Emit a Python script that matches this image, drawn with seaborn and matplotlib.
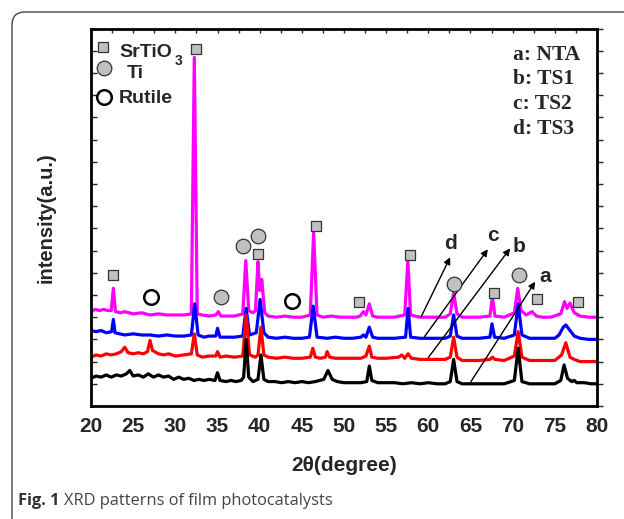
import matplotlib
matplotlib.use("Agg")
import matplotlib.pyplot as plt
import seaborn as sns
import pandas as pd
from matplotlib.patches import FancyBboxPatch
from matplotlib.ticker import MultipleLocator, NullFormatter

# XRD patterns: (2theta, intensity in a.u., stacked offsets included)
nta_pts = [(20.0, 1.25), (20.6, 1.35), (21.2, 1.3), (21.8, 1.4), (22.4, 1.3), (23.0, 1.4), (23.6, 1.35),
           (24.2, 1.45), (24.6, 1.6), (25.0, 1.35), (25.6, 1.4), (26.2, 1.3), (26.8, 1.45), (27.4, 1.3),
           (28.0, 1.4), (28.6, 1.3), (29.2, 1.35), (29.8, 1.2), (30.4, 1.3), (31.0, 1.2), (31.6, 1.25),
           (32.2, 1.15), (32.8, 1.2), (33.4, 1.15), (34.0, 1.2), (34.7, 1.15), (35.0, 1.5), (35.3, 1.15),
           (36.0, 1.1), (36.6, 1.15), (37.2, 1.1), (37.8, 1.15), (38.1, 1.3), (38.4, 3.0), (38.7, 1.3),
           (39.2, 1.1), (39.8, 1.2), (40.15, 2.3), (40.5, 1.2), (41.0, 1.1), (41.8, 1.1), (42.6, 1.05),
           (43.4, 1.1), (44.2, 1.05), (45.0, 1.1), (45.8, 1.05), (46.6, 1.1), (47.6, 1.2), (48.1, 1.6),
           (48.6, 1.2), (49.2, 1.1), (50.0, 1.05), (51.0, 1.05), (52.0, 1.05), (52.7, 1.1), (53.0, 1.8),
           (53.3, 1.15), (54.0, 1.05), (55.0, 1.05), (56.0, 1.05), (57.0, 1.0), (58.0, 1.05), (59.0, 1.0),
           (60.0, 1.05), (61.0, 1.0), (62.0, 1.0), (62.6, 1.1), (63.0, 2.1), (63.4, 1.1), (64.0, 1.0),
           (65.0, 1.0), (66.0, 1.0), (67.0, 1.0), (68.0, 1.0), (69.0, 1.0), (70.2, 1.15), (70.65, 2.6),
           (71.1, 1.1), (72.0, 1.0), (73.0, 1.0), (74.0, 1.0), (75.0, 1.0), (75.7, 1.15), (76.1, 1.85),
           (76.5, 1.25), (77.0, 1.1), (77.3, 1.15), (77.6, 1.05), (78.5, 1.05), (79.3, 1.0), (80.0, 1.0)]

ts1_pts = [(20.0, 2.2), (20.6, 2.3), (21.2, 2.25), (21.8, 2.35), (22.4, 2.3), (23.0, 2.35), (23.6, 2.45),
           (24.0, 2.65), (24.4, 2.4), (25.0, 2.35), (25.6, 2.4), (26.2, 2.35), (26.7, 2.45), (27.0, 2.95),
           (27.3, 2.5), (28.0, 2.35), (28.6, 2.3), (29.2, 2.35), (30.0, 2.25), (31.0, 2.3), (31.9, 2.35),
           (32.25, 3.25), (32.6, 2.3), (33.2, 2.2), (34.0, 2.25), (34.8, 2.25), (35.0, 2.45), (35.3, 2.2),
           (36.0, 2.25), (37.0, 2.2), (38.0, 2.25), (38.4, 4.1), (38.8, 2.3), (39.5, 2.2), (39.8, 2.3),
           (40.15, 3.55), (40.5, 2.3), (41.0, 2.2), (42.0, 2.15), (43.0, 2.2), (44.0, 2.15), (45.0, 2.15),
           (46.0, 2.2), (46.3, 2.6), (46.6, 2.2), (47.2, 2.15), (47.8, 2.2), (48.0, 2.45), (48.3, 2.2),
           (49.0, 2.15), (50.0, 2.15), (51.0, 2.15), (52.0, 2.15), (52.6, 2.25), (53.0, 2.7), (53.3, 2.2),
           (54.0, 2.15), (55.0, 2.15), (56.5, 2.2), (56.85, 2.3), (57.2, 2.15), (57.6, 2.35), (58.0, 2.15),
           (59.0, 2.1), (60.0, 2.1), (61.0, 2.1), (62.0, 2.1), (62.6, 2.2), (63.0, 3.1), (63.4, 2.2),
           (64.0, 2.05), (65.0, 2.05), (66.0, 2.05), (67.3, 2.1), (67.6, 2.2), (67.9, 2.1), (69.0, 2.05),
           (70.2, 2.25), (70.65, 3.35), (71.1, 2.2), (72.0, 2.05), (73.0, 2.05), (74.0, 2.05), (75.0, 2.05),
           (75.8, 2.3), (76.3, 2.85), (76.8, 2.2), (77.3, 2.1), (78.0, 2.0), (79.0, 2.0), (80.0, 2.0)]

ts2_pts = [(20.0, 3.4), (20.6, 3.35), (21.2, 3.4), (21.8, 3.3), (22.45, 3.35), (22.65, 3.9), (22.85, 3.3),
           (23.4, 3.25), (24.0, 3.2), (25.0, 3.25), (26.0, 3.2), (27.0, 3.2), (28.0, 3.15), (29.0, 3.2),
           (30.0, 3.15), (31.0, 3.15), (31.9, 3.2), (32.3, 4.6), (32.7, 3.2), (33.4, 3.1), (34.0, 3.15),
           (34.8, 3.15), (35.0, 3.5), (35.3, 3.1), (36.0, 3.1), (37.0, 3.1), (38.0, 3.15), (38.4, 4.4),
           (38.8, 3.2), (39.6, 3.3), (40.05, 4.8), (40.5, 3.3), (41.0, 3.1), (42.0, 3.05), (43.0, 3.1),
           (44.0, 3.05), (45.0, 3.05), (45.9, 3.1), (46.35, 4.5), (46.8, 3.1), (48.0, 3.05), (49.0, 3.1),
           (50.0, 3.05), (51.0, 3.05), (52.0, 3.1), (52.3, 3.2), (52.6, 3.1), (53.0, 3.55), (53.4, 3.1),
           (54.0, 3.05), (55.0, 3.05), (56.0, 3.05), (57.3, 3.1), (57.6, 4.4), (57.9, 3.1), (59.0, 3.05),
           (60.0, 3.05), (61.0, 3.05), (62.0, 3.05), (62.6, 3.15), (63.0, 4.1), (63.4, 3.15), (64.0, 3.05),
           (65.0, 3.05), (66.0, 3.05), (67.3, 3.1), (67.55, 3.7), (67.85, 3.1), (69.0, 3.05), (70.2, 3.2),
           (70.65, 4.6), (71.1, 3.2), (72.0, 3.05), (73.0, 3.05), (74.0, 3.05), (75.0, 3.05), (75.5, 3.2),
           (76.0, 3.55), (76.3, 3.65), (76.8, 3.4), (77.3, 3.15), (78.0, 3.05), (79.0, 3.0), (80.0, 3.0)]

ts3_pts = [(20.0, 4.25), (20.5, 4.35), (21.0, 4.3), (21.5, 4.35), (22.0, 4.3), (22.4, 4.3), (22.65, 5.3),
           (22.9, 4.25), (23.5, 4.2), (24.0, 4.25), (25.0, 4.15), (26.0, 4.2), (27.0, 4.1), (28.0, 4.15),
           (29.0, 4.1), (30.0, 4.1), (31.0, 4.1), (31.9, 4.15), (32.25, 15.7), (32.6, 4.15), (33.2, 4.1),
           (34.0, 4.05), (34.8, 4.1), (35.1, 4.25), (35.4, 4.05), (36.0, 4.05), (37.0, 4.05), (38.0, 4.15),
           (38.35, 6.55), (38.7, 4.3), (39.2, 4.2), (39.5, 4.3), (39.8, 6.5), (40.0, 5.2), (40.25, 5.7),
           (40.6, 4.2), (41.0, 4.05), (42.0, 4.0), (43.0, 4.05), (44.0, 4.0), (45.0, 4.0), (46.0, 4.1),
           (46.4, 7.8), (46.8, 4.1), (47.5, 4.0), (48.5, 4.05), (49.5, 4.0), (50.5, 4.0), (51.5, 4.0),
           (51.9, 4.05), (52.3, 4.25), (52.6, 4.1), (53.0, 4.6), (53.4, 4.05), (54.0, 4.0), (55.0, 4.0),
           (56.0, 4.0), (57.2, 4.1), (57.57, 6.55), (57.9, 4.1), (59.0, 4.0), (60.0, 4.0), (61.0, 4.0),
           (62.0, 4.0), (62.6, 4.15), (63.0, 5.1), (63.4, 4.15), (64.0, 4.0), (65.0, 4.0), (66.0, 4.0),
           (67.3, 4.05), (67.6, 4.9), (67.9, 4.05), (69.0, 4.0), (70.2, 4.2), (70.6, 5.3), (71.0, 4.3),
           (71.6, 4.1), (72.3, 4.25), (72.8, 4.05), (73.5, 4.0), (74.5, 4.0), (75.7, 4.15), (76.15, 4.7),
           (76.45, 4.4), (76.8, 4.64), (77.3, 4.2), (78.0, 4.05), (79.0, 4.0), (80.0, 4.0)]

samples = ["TS3", "TS2", "TS1", "NTA"]
colors = ["#ff00ff", "#0000ff", "#ff0000", "#000000"]

# phase markers above the peaks
srtio3_x = [22.6, 32.45, 39.8, 46.7, 51.8, 57.85, 67.8, 72.9, 77.8]
srtio3_y = [5.9, 16.1, 6.85, 8.1, 4.7, 6.8, 5.1, 4.8, 4.7]
ti_x = [35.4, 38.0, 39.8, 63.05, 70.8]
ti_y = [4.9, 7.2, 7.65, 5.5, 5.9]
rutile_x = [27.1, 43.85]
rutile_y = [4.9, 4.75]

curve_labels = ["a", "b", "c", "d"]
label_pos = [(73.14, 5.6), (70.02, 6.95), (66.94, 7.45), (61.91, 7.06)]
arrow_start = [(65.04, 1.09), (60.01, 2.19), (59.54, 3.12), (59.15, 4.02)]
arrow_head = [(72.67, 5.6), (69.7, 7.1), (67.06, 7.06), (62.59, 6.7)]

key_text = ["a: NTA", "b: TS1", "c: TS2", "d: TS3"]

rows = []
for name, pts in zip(["NTA", "TS1", "TS2", "TS3"], [nta_pts, ts1_pts, ts2_pts, ts3_pts]):
    for tt, inten in pts:
        rows.append({"two_theta": tt, "intensity": inten, "sample": name})
df = pd.DataFrame(rows)

sns.set_style("white")
plt.rcParams["font.family"] = ["Liberation Sans", "DejaVu Sans"]
plt.rcParams["font.weight"] = "bold"

fig = plt.figure(figsize=(6.24, 5.19), dpi=100)
ax = fig.add_axes([91 / 624, 1 - 406 / 519, 506 / 624, 377.4 / 519])

sns.lineplot(data=df, x="two_theta", y="intensity", hue="sample", hue_order=samples,
             palette=colors, estimator=None, legend=False, linewidth=2.3, ax=ax)

gray = "#c0c0c0"
edge = "#333333"
ax.scatter(srtio3_x, srtio3_y, marker="s", s=62, facecolor=gray, edgecolor=edge, linewidth=0.9, zorder=5)
ax.scatter(ti_x, ti_y, marker="o", s=110, facecolor=gray, edgecolor=edge, linewidth=0.9, zorder=5)
ax.scatter(rutile_x, rutile_y, marker="o", s=110, facecolor="white", edgecolor="black", linewidth=1.8, zorder=5)

# legend drawn by hand like the original
ax.scatter([21.39], [16.18], marker="s", s=62, facecolor=gray, edgecolor=edge, linewidth=0.9, zorder=5)
ax.scatter([21.54], [15.24], marker="o", s=110, facecolor=gray, edgecolor=edge, linewidth=0.9, zorder=5)
ax.scatter([21.54], [13.93], marker="o", s=110, facecolor="white", edgecolor="black", linewidth=1.8, zorder=5)
ax.text(23.36, 15.74, "SrTiO", fontsize=14, fontweight="bold", va="baseline")
ax.text(29.96, 15.36, "3", fontsize=10, fontweight="bold", va="baseline")
ax.text(24.23, 14.76, "Ti", fontsize=14, fontweight="bold", va="baseline")
ax.text(23.24, 13.64, "Rutile", fontsize=14, fontweight="bold", va="baseline")

for i, t in enumerate(key_text):
    ax.text(70.06, 15.6 - i * 1.11, t, fontsize=15.5, fontweight="bold", va="baseline",
            family=["Liberation Serif", "DejaVu Serif"])

for lab, pos, st, hd in zip(curve_labels, label_pos, arrow_start, arrow_head):
    ax.annotate("", xy=hd, xytext=st,
                arrowprops=dict(arrowstyle="-|>", color="black", lw=1.0, mutation_scale=10,
                                shrinkA=0, shrinkB=0))
    ax.text(pos[0], pos[1], lab, fontsize=15, fontweight="bold", va="baseline")

ax.set_xlim(20, 80)
ax.set_ylim(0, 17)
ax.xaxis.set_major_locator(MultipleLocator(5))
ax.xaxis.set_minor_locator(MultipleLocator(2.5))
ax.yaxis.set_major_locator(MultipleLocator(1))
ax.yaxis.set_major_formatter(NullFormatter())
ax.tick_params(axis="x", which="major", direction="out", length=5, width=1.5, labelsize=15, pad=3)
ax.tick_params(axis="x", which="minor", direction="out", length=3, width=1.2)
ax.tick_params(axis="y", which="major", direction="in", length=4, width=1.0, left=True)
for lab in ax.get_xticklabels():
    lab.set_fontweight("bold")
for sp in ax.spines.values():
    sp.set_linewidth(2.0)
    sp.set_color("black")

top = ax.secondary_xaxis("top")
top.xaxis.set_major_locator(MultipleLocator(5))
top.xaxis.set_minor_locator(MultipleLocator(2.5))
top.tick_params(axis="x", which="both", direction="in", length=3, width=1.0, labeltop=False)
right = ax.secondary_yaxis("right")
right.yaxis.set_major_locator(MultipleLocator(1))
right.tick_params(axis="y", direction="out", length=4, width=1.0, labelright=False)

ax.set_xlabel("2\u03b8(degree)", fontsize=15, fontweight="bold", labelpad=14)
ax.set_ylabel("intensity(a.u.)", fontsize=14.5, fontweight="bold", labelpad=22)

# outer rounded frame of the figure panel
frame = FancyBboxPatch((0.12, -1.0), 8.0, 5.07 + 1.0, boxstyle="round,pad=0,rounding_size=0.13",
                       transform=fig.dpi_scale_trans, facecolor="none", edgecolor="#444444", linewidth=1.0)
fig.patches.append(frame)

fig.canvas.draw()
cap1 = fig.text(18 / 624, 1 - 505 / 519, "Fig. 1", fontsize=11.8, fontweight="bold", color="#333333",
                family=["Open Sans", "DejaVu Sans"], va="baseline")
fig.canvas.draw()
bb = cap1.get_window_extent()
fig.text((bb.x1 + 4) / 624, 1 - 505 / 519, "XRD patterns of film photocatalysts", fontsize=11.8,
         fontweight="normal", color="#444444", family=["Open Sans", "DejaVu Sans"], va="baseline")

fig.savefig("out.png", dpi=100)
